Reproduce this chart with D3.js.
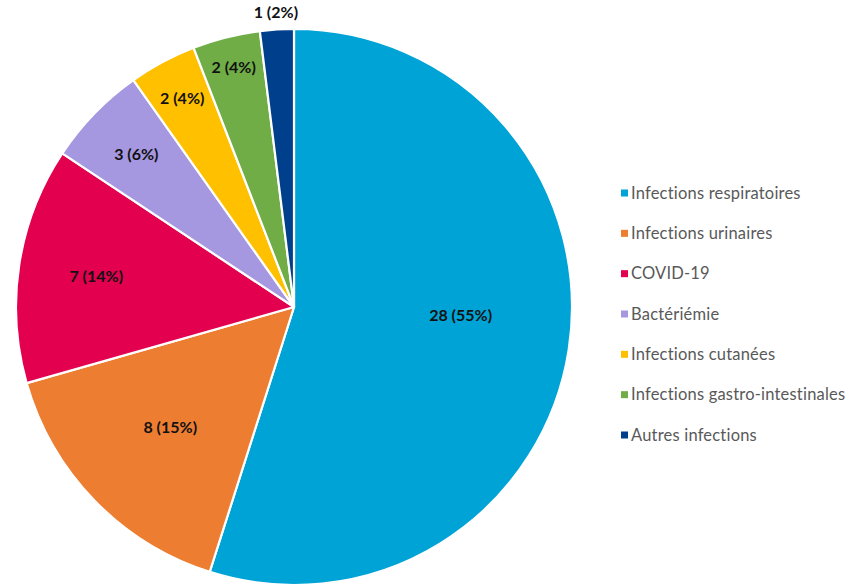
<!DOCTYPE html>
<meta charset="utf-8">
<title>Infections</title>
<style>
body { margin: 0; background: #fff; }
svg { display: block; font-family: Lato, "Open Sans", sans-serif; }
.lbl { font-weight: bold; font-size: 16px; fill: #111; }
.leg text { font-size: 16.5px; fill: #595959; letter-spacing: 0.2px; }
</style>
<svg width="854" height="585"></svg>
<script src="https://cdn.jsdelivr.net/npm/d3@7"></script>
<script>
'use strict';

// data
const categories = ["Infections respiratoires", "Infections urinaires", "COVID-19", "Bactériémie",
                    "Infections cutanées", "Infections gastro-intestinales", "Autres infections"];
const counts = [28, 8, 7, 3, 2, 2, 1];
const percents = ["55%", "15%", "14%", "6%", "4%", "4%", "2%"];
const colors = ["#00a3d6", "#ed7d31", "#e3004f", "#a597e0", "#ffc000", "#70ad47", "#003f8c"];

// label placement (excel "best fit"): distance as fraction of radius, angle nudge in degrees
const labelR = [0.6, 0.62, 0.72, 0.79, 0.85, 0.89, 1.06];
const labelNudge = [-6, 0, 0, 0, 0, 0, 0];

const cx = 294, cy = 307, r = 278;

const svg = d3.select("svg");
const g = svg.append("g").attr("transform", `translate(${cx},${cy})`);

const pie = d3.pie().sort(null).value(d => d);
const arcs = pie(counts);
const arc = d3.arc().innerRadius(0).outerRadius(r);

g.selectAll("path.slice")
  .data(arcs)
  .enter().append("path")
    .attr("class", "slice")
    .attr("d", arc)
    .attr("fill", (d, i) => colors[i])
    .attr("stroke", "#fff")
    .attr("stroke-width", 2.2)
    .attr("stroke-linejoin", "round");

g.selectAll("text.lbl")
  .data(arcs)
  .enter().append("text")
    .attr("class", "lbl")
    .attr("text-anchor", "middle")
    .attr("dy", "0.35em")
    .attr("transform", (d, i) => {
      const a = (d.startAngle + d.endAngle) / 2 + labelNudge[i] * Math.PI / 180;
      const rr = r * labelR[i];
      return `translate(${Math.sin(a) * rr},${-Math.cos(a) * rr})`;
    })
    .text((d, i) => counts[i] + " (" + percents[i] + ")");

// legend
const ly = d3.scalePoint().domain(categories).range([193, 435]);
const leg = svg.append("g").attr("class", "leg")
  .selectAll("g")
  .data(categories)
  .enter().append("g")
    .attr("transform", d => `translate(621,${ly(d)})`);

leg.append("rect")
  .attr("x", 0).attr("y", -3.5)
  .attr("width", 7).attr("height", 7)
  .attr("fill", (d, i) => colors[i]);

leg.append("text")
  .attr("x", 10)
  .attr("dy", "0.35em")
  .text(d => d);
</script>
